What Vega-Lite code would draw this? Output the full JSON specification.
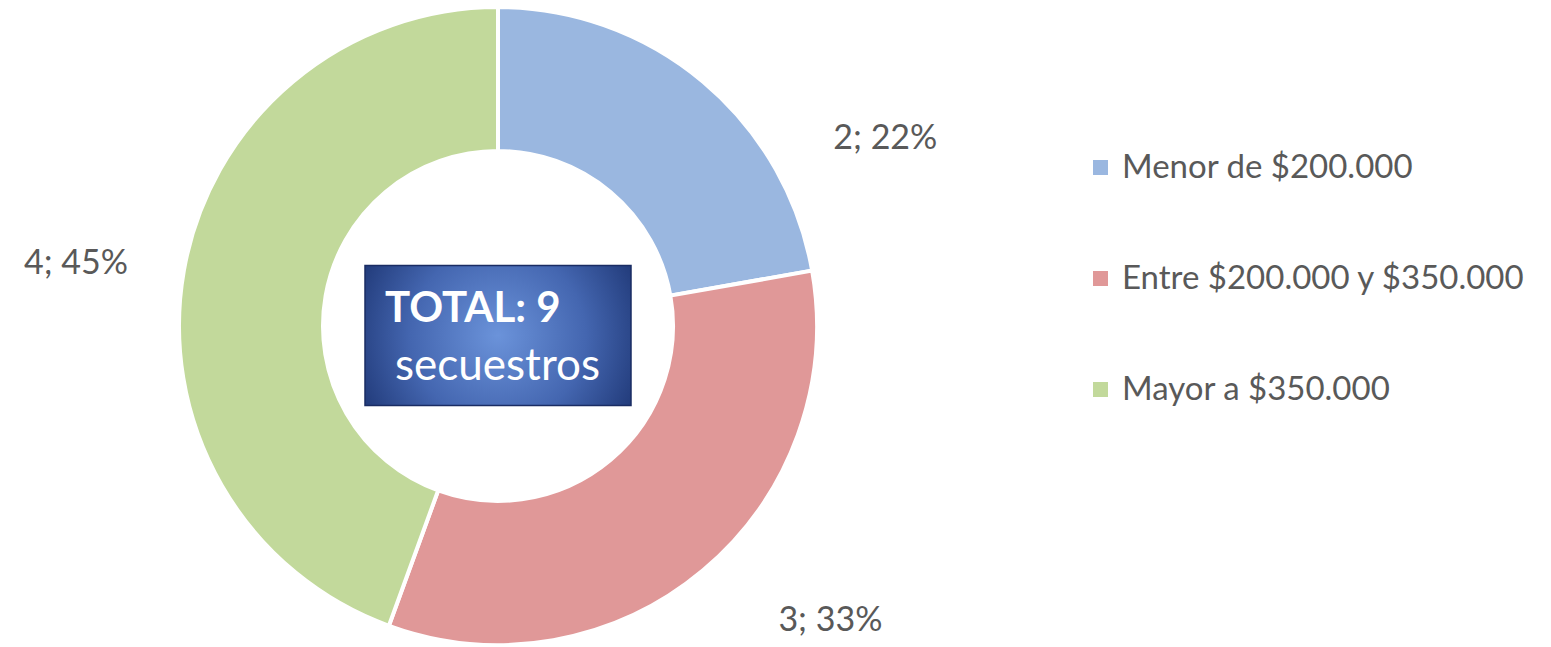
{
  "$schema": "https://vega.github.io/schema/vega-lite/v6.json",
  "width": 996,
  "height": 640,
  "padding": {"left": 0, "top": 6, "right": 555, "bottom": 0},
  "autosize": {"type": "none"},
  "background": "white",
  "config": {"view": {"stroke": null}},
  "layer": [
    {
      "data": {
        "values": [
          {"categoria": "Menor de $200.000", "secuestros": 2, "etiqueta": "2; 22%", "orden": 1},
          {"categoria": "Entre $200.000 y $350.000", "secuestros": 3, "etiqueta": "3; 33%", "orden": 2},
          {"categoria": "Mayor a $350.000", "secuestros": 4, "etiqueta": "4; 45%", "orden": 3}
        ]
      },
      "encoding": {
        "theta": {"field": "secuestros", "type": "quantitative", "stack": true},
        "order": {"field": "orden", "type": "quantitative"},
        "detail": {"field": "categoria", "type": "nominal"}
      },
      "layer": [
        {
          "mark": {"type": "arc", "innerRadius": 175, "outerRadius": 319, "stroke": "white", "strokeWidth": 4},
          "encoding": {
            "color": {
              "field": "categoria",
              "type": "nominal",
              "scale": {
                "domain": ["Menor de $200.000", "Entre $200.000 y $350.000", "Mayor a $350.000"],
                "range": ["#9ab7e0", "#e09898", "#c2d99b"]
              },
              "legend": {
                "orient": "none",
                "legendX": 1084,
                "legendY": 145,
                "title": null,
                "symbolType": "square",
                "symbolSize": 225,
                "symbolStrokeWidth": 0,
                "labelFont": "Lato",
                "labelFontSize": 33,
                "labelColor": "#595959",
                "labelOffset": 5,
                "labelLimit": 0,
                "rowPadding": 77
              }
            }
          }
        },
        {
          "mark": {"type": "text", "radius": 391, "dx": 136, "dy": 113, "font": "Lato", "fontSize": 34, "align": "center", "baseline": "middle"},
          "encoding": {
            "color": {"value": "#595959"},
            "text": {"condition": {"test": "datum.orden === 1", "field": "etiqueta", "type": "nominal"}, "value": ""}
          }
        },
        {
          "mark": {"type": "text", "radius": 444, "dx": 47, "dy": -45, "font": "Lato", "fontSize": 34, "align": "center", "baseline": "middle"},
          "encoding": {
            "color": {"value": "#595959"},
            "text": {"condition": {"test": "datum.orden === 2", "field": "etiqueta", "type": "nominal"}, "value": ""}
          }
        },
        {
          "mark": {"type": "text", "radius": 427, "dx": -1.5, "dy": 12, "font": "Lato", "fontSize": 34, "align": "center", "baseline": "middle"},
          "encoding": {
            "color": {"value": "#595959"},
            "text": {"condition": {"test": "datum.orden === 3", "field": "etiqueta", "type": "nominal"}, "value": ""}
          }
        }
      ]
    },
    {
      "data": {"values": [{"titulo": "TOTAL: 9", "sub": "secuestros"}]},
      "layer": [
        {
          "mark": {
            "type": "point",
            "shape": "M-1,-0.526L1,-0.526L1,0.526L-1,0.526Z",
            "size": 70756,
            "yOffset": 9.5,
            "filled": true,
            "opacity": 1,
            "fill": {
              "gradient": "radial",
              "x1": 0.5, "y1": 0.5, "r1": 0,
              "x2": 0.5, "y2": 0.5, "r2": 0.6,
              "stops": [
                {"offset": 0, "color": "#6b93da"},
                {"offset": 0.55, "color": "#4466b0"},
                {"offset": 1, "color": "#1d3573"}
              ]
            },
            "stroke": "#1a2c63",
            "strokeWidth": 1.5
          }
        },
        {
          "mark": {"type": "text", "font": "Lato", "fontWeight": "bold", "fontSize": 42, "align": "left", "baseline": "alphabetic", "dx": -113, "dy": -4, "color": "white"},
          "encoding": {"text": {"field": "titulo", "type": "nominal"}}
        },
        {
          "mark": {"type": "text", "font": "Lato", "fontSize": 44, "align": "left", "baseline": "alphabetic", "dx": -103, "dy": 54, "color": "white"},
          "encoding": {"text": {"field": "sub", "type": "nominal"}}
        }
      ]
    }
  ]
}
